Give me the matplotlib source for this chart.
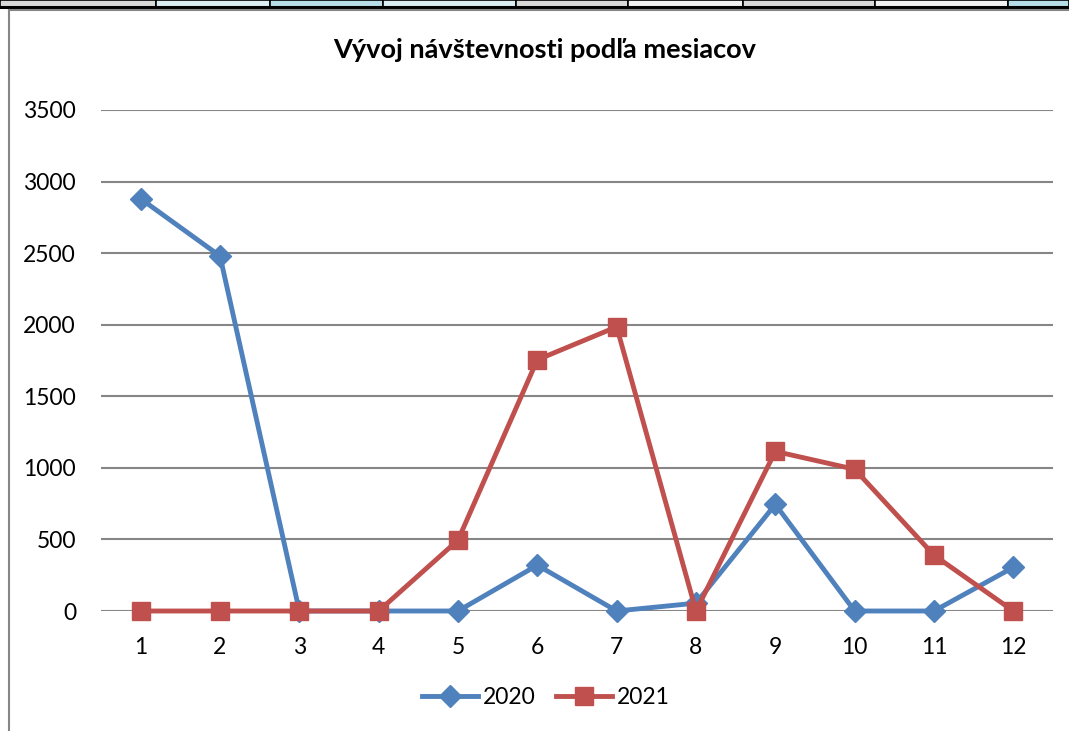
import matplotlib
matplotlib.use("Agg")
import matplotlib.pyplot as plt
from matplotlib.patches import Rectangle
from matplotlib.lines import Line2D

months = list(range(1, 13))
month_labels = [str(m) for m in months]
series_2020 = [2880, 2480, 0, 0, 0, 320, 0, 55, 745, 0, 0, 305]
series_2021 = [0, 0, 0, 0, 495, 1755, 1985, 0, 1115, 990, 390, 0]
y_ticks = [0, 500, 1000, 1500, 2000, 2500, 3000, 3500]
title = "Vývoj návštevnosti podľa mesiacov"

W, H = 1069, 731
fig = plt.figure(figsize=(W / 100, H / 100), dpi=100)
plt.rcParams['font.family'] = ['Lato', 'DejaVu Sans']

# spreadsheet header cells at top
cells = [(0, 156, '#d9d9d9'), (156, 270, '#daeef3'), (270, 383, '#b7dee8'),
         (383, 516, '#daeef3'), (516, 628, '#d9d9d9'), (628, 743, '#f2f2f2'),
         (743, 875, '#d9d9d9'), (875, 1008, '#f2f2f2'), (1008, 1069, '#b7dee8')]
for x0, x1, c in cells:
    fig.patches.append(Rectangle((x0 / W, 1 - 7 / H), (x1 - x0) / W, 7 / H,
                                 transform=fig.transFigure, facecolor=c,
                                 edgecolor='black', linewidth=1.2, zorder=1))
fig.lines.append(Line2D([0, 1], [1 - 7 / H, 1 - 7 / H], transform=fig.transFigure,
                        color='black', linewidth=2.2, zorder=2))
# chart area border (gray)
fig.lines.append(Line2D([8.5 / W, 8.5 / W], [0, 1 - 9.5 / H], transform=fig.transFigure,
                        color='#868686', linewidth=1.5))
fig.lines.append(Line2D([8.5 / W, 1], [1 - 9.5 / H, 1 - 9.5 / H], transform=fig.transFigure,
                        color='#868686', linewidth=1.5))

ax = fig.add_axes([101 / W, 1 - 611 / H, (1053 - 101) / W, (611 - 110) / H])
ax.set_xlim(0.5, 12.5)
ax.set_ylim(0, 3500)
ax.set_yticks(y_ticks)
ax.set_xticks(months)
ax.set_xticklabels(month_labels)
for s in ax.spines.values():
    s.set_visible(False)
ax.grid(axis='y', color='#868686', linewidth=1.5)
ax.set_axisbelow(True)
ax.tick_params(length=0, labelsize=16.5)
ax.tick_params(axis='y', pad=18)
ax.tick_params(axis='x', pad=19)

ax.plot(months, series_2020, color='#4f81bd', linewidth=3.5, marker='D',
        markersize=11, label='2020', clip_on=False, zorder=3)
ax.plot(months, series_2021, color='#c0504d', linewidth=3.5, marker='s',
        markersize=13, label='2021', clip_on=False, zorder=4)

fig.text(545 / W, 1 - 50 / H, title, ha='center', va='center',
         fontsize=19.5, fontweight='bold')

leg = fig.legend(loc='center', bbox_to_anchor=(546 / W, 1 - 698 / H), ncol=2,
                 frameon=False, fontsize=16.5, handlelength=2.45, columnspacing=0.9,
                 handletextpad=0.2, borderpad=0, borderaxespad=0)

fig.savefig('out.png', dpi=100)
